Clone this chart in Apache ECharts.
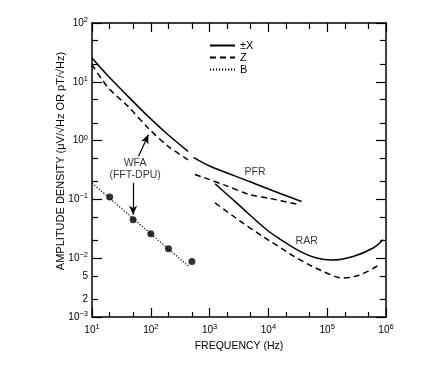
<!DOCTYPE html>
<html><head><meta charset="utf-8">
<script src="https://cdn.jsdelivr.net/npm/echarts@6/dist/echarts.min.js"></script>
<style>html,body{margin:0;padding:0;background:#fff}#c{width:448px;height:365px}</style>
</head><body><div id="c"></div>
<script>
// ---- data ----
const wfaFreq = [10, 19, 41, 90, 197, 431];
const wfaX = [25.4, 12.4, 5.65, 2.58, 1.26, 0.655];
const wfaZ = [19.5, 7.85, 3.82, 1.64, 0.80, 0.47];
const pfrXFreq = [531, 1000, 4880, 10000, 36700];
const pfrX = [0.52, 0.37, 0.20, 0.15, 0.092];
const pfrZFreq = [560, 785, 2000, 4880, 10000, 34400];
const pfrZ = [0.265, 0.237, 0.168, 0.12, 0.105, 0.081];
const rarXFreq = [1240, 1610, 3000, 9350, 15700, 34400, 66000, 120000, 276000, 604000, 893000];
const rarX = [0.185, 0.146, 0.084, 0.0305, 0.0212, 0.0131, 0.0101, 0.0093, 0.0107, 0.0149, 0.0206];
const rarZFreq = [1240, 2000, 4880, 15000, 34400, 98000, 187000, 359000, 735000];
const rarZ = [0.087, 0.0615, 0.0326, 0.0157, 0.0094, 0.0056, 0.0046, 0.0052, 0.0075];
const bLineFreq = [10, 437];
const bLine = [0.19, 0.0073];
const bPointFreq = [20, 50, 100, 200, 500];
const bPoint = [0.11, 0.045, 0.026, 0.0145, 0.0088];

const legendNames = ['±X', 'Z', 'B'];
const xMajorTicks = [10, 100, 1000, 1e4, 1e5, 1e6];
const xMinorTicks = [20, 50, 200, 500, 2000, 5000, 2e4, 5e4, 2e5, 5e5];
const yMajorTicks = [0.001, 0.01, 0.1, 1, 10, 100];
const yMinorTicks = [0.002, 0.005, 0.02, 0.05, 0.2, 0.5, 2, 5, 20, 50];
const xTickLabels = [10, 100, 1000, 1e4, 1e5, 1e6];
const yTickLabels = [0.001, 0.002, 0.005, 0.01, 0.1, 1, 10, 100];

const annoText = ['WFA\n(FFT-DPU)', 'PFR', 'RAR'];
const annoFreq = [54, 5930, 44700];
const annoAmp = [0.33, 0.292, 0.0193];
const arrowFrom = [[62, 0.54], [50, 0.19]];
const arrowTo = [[91, 1.26], [50, 0.055]];

// ---- chart ----
const FONT = "'Liberation Sans', Arial, Helvetica, sans-serif";
const zip = (a, b) => a.map((v, i) => [v, b[i]]);

function fmt(v) {
  const l = Math.log10(v);
  const e = Math.round(l);
  if (Math.abs(l - e) < 1e-6) {
    return '{b|10}{s|' + (e < 0 ? '\u2212' + (-e) : String(e)) + '}';
  }
  return '{b|' + Math.round(v / Math.pow(10, Math.floor(l + 1e-9))) + '}';
}
const rich = {
  b: { fontSize: 10, fontFamily: FONT, color: '#000' },
  s: { fontSize: 7.5, fontFamily: FONT, color: '#000', padding: [0, 0, 6, 0] }
};
const lineSt = { color: '#000', width: 1.5 };

function mkAxis(dim, pos, ticks, len, showLine, labels, extra) {
  const a = {
    type: 'log', logBase: 10, position: pos,
    min: dim === 'x' ? 10 : 0.001, max: dim === 'x' ? 1e6 : 100,
    axisLine: { show: showLine, onZero: false, lineStyle: lineSt },
    axisTick: { show: true, inside: true, length: len, customValues: ticks,
      lineStyle: { color: '#000', width: 1.2 } },
    axisLabel: labels ? { show: true, customValues: labels, formatter: fmt, rich: rich,
      margin: dim === 'x' ? 6 : 4, color: '#000' } : { show: false },
    splitLine: { show: false }, minorTick: { show: false }, minorSplitLine: { show: false }
  };
  return Object.assign(a, extra || {});
}

const nameStyle = { fontSize: 10.5, fontFamily: FONT, color: '#000' };

const option = {
  animation: false,
  backgroundColor: '#fff',
  color: ['#000'],
  grid: { left: 92, right: 62, top: 23, bottom: 48 },
  legend: {
    data: legendNames, orient: 'vertical', left: 204, top: 35,
    itemWidth: 25, itemHeight: 10, itemGap: 1, selectedMode: false,
    itemStyle: { opacity: 0 },
    textStyle: { fontSize: 11, fontFamily: FONT, color: '#000' }
  },
  xAxis: [
    mkAxis('x', 'bottom', xMajorTicks, 9, true, xTickLabels,
      { name: 'FREQUENCY (Hz)', nameLocation: 'middle', nameGap: 24, nameMoveOverlap: false,
        nameTextStyle: nameStyle }),
    mkAxis('x', 'bottom', xMinorTicks, 5, false, null),
    mkAxis('x', 'top', xMajorTicks, 9, true, null),
    mkAxis('x', 'top', xMinorTicks, 6, false, null)
  ],
  yAxis: [
    mkAxis('y', 'left', yMajorTicks, 10, true, yTickLabels,
      { name: 'AMPLITUDE DENSITY (\u03bcV/\u221aHz OR pT/\u221aHz)', nameLocation: 'middle',
        nameRotate: 90, nameGap: 26, nameMoveOverlap: false,
        nameTextStyle: Object.assign({}, nameStyle, { fontSize: 11, padding: [0, 0, 0, 18] }) }),
    mkAxis('y', 'left', yMinorTicks, 6, false, null),
    mkAxis('y', 'right', yMajorTicks, 10, true, null),
    mkAxis('y', 'right', yMinorTicks, 6, false, null)
  ],
  series: [
    { name: '±X', type: 'line', data: zip(wfaFreq, wfaX), symbol: 'none', smooth: 0.3,
      lineStyle: { color: '#000', width: 1.5, type: 'solid' } },
    { name: 'Z', type: 'line', data: zip(wfaFreq, wfaZ), symbol: 'none', smooth: 0.3,
      lineStyle: { color: '#000', width: 1.5, type: [6, 4] } },
    { name: '±X', type: 'line', data: zip(pfrXFreq, pfrX), symbol: 'none', smooth: 0.3,
      lineStyle: { color: '#000', width: 1.5, type: 'solid' } },
    { name: 'Z', type: 'line', data: zip(pfrZFreq, pfrZ), symbol: 'none', smooth: 0.3,
      lineStyle: { color: '#000', width: 1.5, type: [6, 4] } },
    { name: '±X', type: 'line', data: zip(rarXFreq, rarX), symbol: 'none', smooth: 0.35,
      lineStyle: { color: '#000', width: 1.5, type: 'solid' } },
    { name: 'Z', type: 'line', data: zip(rarZFreq, rarZ), symbol: 'none', smooth: 0.35,
      lineStyle: { color: '#000', width: 1.5, type: [6, 4] } },
    { name: 'B', type: 'line', data: zip(bLineFreq, bLine), symbol: 'none',
      lineStyle: { color: '#000', width: 1.2, type: [1.2, 1.8] } },
    { name: 'B points', type: 'scatter', data: zip(bPointFreq, bPoint), symbol: 'circle',
      symbolSize: 7, itemStyle: { color: '#000' }, silent: true },
    { name: 'annotations', type: 'scatter', silent: true, symbolSize: 1,
      itemStyle: { color: 'rgba(0,0,0,0)' },
      data: annoText.map((t, i) => ({ value: [annoFreq[i], annoAmp[i]], name: t })),
      label: { show: true, position: 'inside', formatter: p => p.name, color: '#000',
        fontSize: 10.5, fontFamily: FONT, lineHeight: 12, align: 'center' },
      labelLayout: { hideOverlap: false },
      markLine: {
        silent: true, symbol: ['none', 'arrow'], symbolSize: [6, 9],
        lineStyle: { color: '#000', width: 1.2, type: 'solid' }, label: { show: false },
        data: arrowFrom.map((f, i) => [{ coord: f }, { coord: arrowTo[i] }])
      }
    }
  ]
};
echarts.init(document.getElementById('c'), null, { renderer: 'canvas' }).setOption(option);
</script></body></html>
